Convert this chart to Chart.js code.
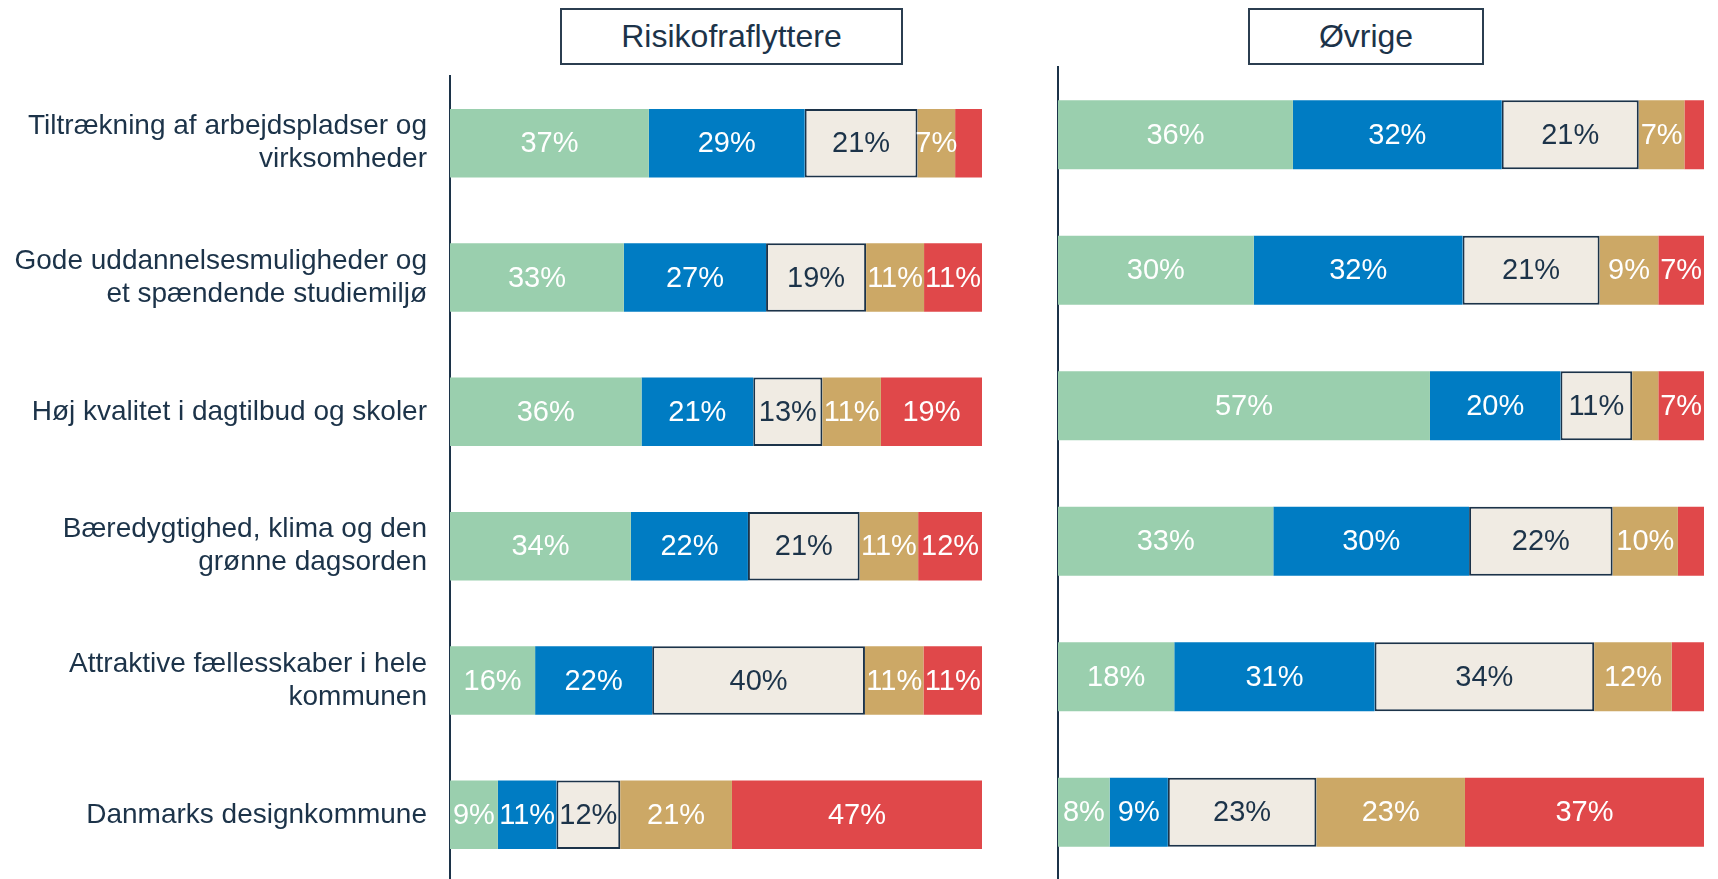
<!DOCTYPE html>
<html>
<head>
<meta charset="utf-8">
<script src="https://cdn.jsdelivr.net/npm/chart.js@4/dist/chart.umd.min.js"></script>
<style>
  html, body { margin: 0; padding: 0; width: 1718px; height: 879px; overflow: hidden; background: #ffffff; }
  .box { position: absolute; box-sizing: border-box; border: 2px solid #2b3e50; background: #fff;
         font-family: "Liberation Sans", Arial, sans-serif; font-size: 32px; color: #1c3349;
         display: flex; align-items: center; justify-content: center; }
  canvas { position: absolute; top: 0; }
</style>
</head>
<body>
<div class="box" id="t1" style="left:560px; top:8px; width:343px; height:57px;">Risikofraflyttere</div>
<div class="box" id="t2" style="left:1248px; top:8px; width:236px; height:57px;">Øvrige</div>
<canvas id="c1" width="1000" height="900" style="left:0px; width:1000px; height:900px;"></canvas>
<canvas id="c2" width="718" height="900" style="left:1000px; width:718px; height:900px;"></canvas>
<script>
// Categories (y-axis labels, multi-line as shown)
const categories = [
  ["Tiltrækning af arbejdspladser og", "virksomheder"],
  ["Gode uddannelsesmuligheder og", "et spændende studiemiljø"],
  "Høj kvalitet i dagtilbud og skoler",
  ["Bæredygtighed, klima og den", "grønne dagsorden"],
  ["Attraktive fællesskaber i hele", "kommunen"],
  "Danmarks designkommune"
];
const seriesNames = ["Kategori 1", "Kategori 2", "Kategori 3", "Kategori 4", "Kategori 5"];

// Risikofraflyttere (percent)
const risikoS1 = [37, 33, 36, 34, 16, 9];
const risikoS2 = [29, 27, 21, 22, 22, 11];
const risikoS3 = [21, 19, 13, 21, 40, 12];
const risikoS4 = [7, 11, 11, 11, 11, 21];
const risikoS5 = [5, 11, 19, 12, 11, 47];

// Øvrige (percent)
const ovrigeS1 = [36, 30, 57, 33, 18, 8];
const ovrigeS2 = [32, 32, 20, 30, 31, 9];
const ovrigeS3 = [21, 21, 11, 22, 34, 23];
const ovrigeS4 = [7, 9, 4, 10, 12, 23];
const ovrigeS5 = [3, 7, 7, 4, 5, 37];

const colors = ["#9acfae", "#007cc3", "#f0ebe3", "#cca866", "#e0484a"];
const textColors = ["#ffffff", "#ffffff", "#1c3349", "#ffffff", "#ffffff"];
const NAVY = "#1c3349";
const FONT = "'Liberation Sans', Arial, sans-serif";
const LABEL_MIN = 6;

function buildDatasets(series) {
  const sums = categories.map((_, i) => series.reduce((a, s) => a + s[i], 0));
  return series.map((s, k) => ({
    label: seriesNames[k],
    data: s.map((v, i) => v / sums[i] * 100),
    raw: s,
    backgroundColor: colors[k],
    borderColor: k === 2 ? NAVY : colors[k],
    borderWidth: k === 2 ? 2 : 0,
    borderSkipped: false,
    barPercentage: 0.51,
    categoryPercentage: 1.0
  }));
}

const barLabels = {
  id: 'barLabels',
  afterDatasetsDraw(chart) {
    const ctx = chart.ctx;
    ctx.save();
    ctx.font = "29px " + FONT;
    ctx.textAlign = 'center';
    ctx.textBaseline = 'middle';
    chart.data.datasets.forEach((ds, k) => {
      const meta = chart.getDatasetMeta(k);
      meta.data.forEach((el, i) => {
        const v = ds.raw[i];
        if (v < LABEL_MIN) return;
        const p = el.getProps(['x', 'y', 'base'], true);
        ctx.fillStyle = textColors[k];
        ctx.fillText(v + '%', (p.x + p.base) / 2, p.y + 1);
      });
    });
    ctx.restore();
  }
};

function makeChart(id, series, axisWidth, showLabels, padding) {
  return new Chart(document.getElementById(id), {
    type: 'bar',
    data: { labels: categories, datasets: buildDatasets(series) },
    plugins: [barLabels],
    options: {
      indexAxis: 'y',
      responsive: false,
      animation: false,
      layout: { padding: padding },
      plugins: { legend: { display: false }, tooltip: { enabled: false }, title: { display: false } },
      scales: {
        x: { display: false, stacked: true, min: 0, max: 100 },
        y: {
          stacked: true,
          grid: { display: false, drawTicks: false },
          border: { display: true, color: NAVY, width: 2 },
          ticks: {
            display: showLabels,
            padding: 23,
            color: NAVY,
            font: { family: FONT, size: 28, lineHeight: 1.18 }
          },
          afterFit(scale) {
            scale.width = axisWidth;
            scale.paddingTop = 0;
            scale.paddingBottom = 0;
          }
        }
      }
    }
  });
}

makeChart('c1', [risikoS1, risikoS2, risikoS3, risikoS4, risikoS5], 450, true, { top: 76, bottom: 18, left: 0, right: 18 });
makeChart('c2', [ovrigeS1, ovrigeS2, ovrigeS3, ovrigeS4, ovrigeS5], 58, false, { top: 67, bottom: 20, left: 0, right: 14 });
</script>
</body>
</html>
